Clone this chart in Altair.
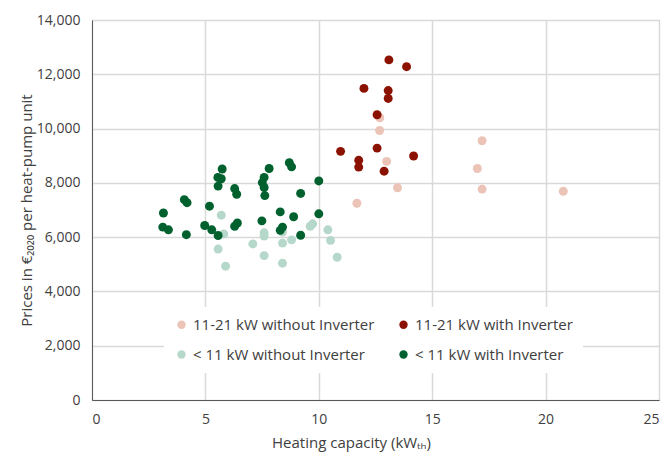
import altair as alt
import pandas as pd

# 11-21 kW without inverter
x_big_wo = [12.69, 12.68, 12.99, 13.47, 11.68, 17.20, 16.99, 17.20, 20.78]
y_big_wo = [10400, 9930, 8790, 7820, 7250, 9550, 8530, 7770, 7690]

# 11-21 kW with inverter
x_big_w = [13.09, 13.87, 11.99, 13.06, 13.06, 12.57, 10.96, 12.57, 11.76, 11.76, 12.88, 14.18]
y_big_w = [12530, 12280, 11480, 11400, 11110, 10510, 9160, 9280, 8830, 8580, 8430, 8990]

# < 11 kW without inverter
x_small_wo = [5.70, 5.81, 5.56, 5.89, 7.09, 7.59, 7.59, 7.59, 8.40, 8.40, 8.40, 8.80,
              9.62, 9.73, 10.40, 10.52, 10.81]
y_small_wo = [6810, 6120, 5560, 4930, 5750, 6160, 6040, 5320, 6190, 5780, 5040, 5900,
              6400, 6490, 6270, 5880, 5260]

# < 11 kW with inverter
x_small_w = [3.15, 3.12, 3.37, 4.07, 4.19, 4.16, 5.18, 4.97, 5.28, 5.56, 5.74, 5.55,
             5.70, 5.56, 6.29, 6.38, 6.29, 6.41, 7.81, 7.59, 7.51, 7.59, 7.62, 7.49,
             8.70, 8.80, 9.20, 10.00, 8.30, 8.89, 8.40, 8.30, 9.20, 10.00]
y_small_w = [6890, 6370, 6270, 7380, 7270, 6090, 7140, 6430, 6270, 6060, 8510, 8200,
             8150, 7880, 7790, 7580, 6400, 6520, 8530, 8200, 8010, 7830, 7530, 6600,
             8740, 8590, 7610, 8070, 6930, 6750, 6370, 6250, 6070, 6860]

categories = ["11-21 kW without Inverter", "11-21 kW with Inverter",
              "< 11 kW without Inverter", "< 11 kW with Inverter"]
colors = ["#ebc3b7", "#8b1200", "#b5d8ca", "#00612e"]

series = [(x_big_wo, y_big_wo), (x_big_w, y_big_w),
          (x_small_wo, y_small_wo), (x_small_w, y_small_w)]
rows = []
for cat, (xs, ys) in zip(categories, series):
    for xv, yv in zip(xs, ys):
        rows.append({"cap": xv, "price": yv, "group": cat})
df = pd.DataFrame(rows)

FONT = "Open Sans"
TXT = "#404040"

chart = alt.Chart(df).mark_circle(size=80, opacity=1).encode(
    x=alt.X("cap:Q", scale=alt.Scale(domain=[0, 25], nice=False),
            axis=alt.Axis(values=[0, 5, 10, 15, 20, 25], title="Heating capacity (kWₜₕ)",
                          titleX=259, titleY=35, titleAnchor="middle")),
    y=alt.Y("price:Q", scale=alt.Scale(domain=[0, 14000], nice=False),
            axis=alt.Axis(values=list(range(0, 14001, 2000)), format=",.0f",
                          title="Prices in €₂₀₂₀ per heat-pump unit")),
    color=alt.Color("group:N", scale=alt.Scale(domain=categories, range=colors),
                    sort=categories,
                    legend=alt.Legend(title=None, orient="none", columns=2,
                                      legendX=72, legendY=287, direction="horizontal",
                                      fillColor="white", padding=10,
                                      columnPadding=21, rowPadding=14,
                                      symbolType="circle", symbolSize=70,
                                      labelFont=FONT, labelFontSize=15, labelColor=TXT,
                                      labelLimit=400, symbolOpacity=1)),
).properties(
    width=567, height=380,
    autosize=alt.AutoSizeParams(type="none"),
    padding={"left": 84, "top": 12, "right": 2, "bottom": 52},
).configure_view(
    stroke="#a6a6a6", strokeWidth=1
).configure_axis(
    labelFont=FONT, labelFontSize=14, labelColor=TXT,
    titleFont=FONT, titleFontSize=15, titleColor=TXT, titleFontWeight="normal",
    gridColor="#d9d9d9", gridWidth=1.5,
    domainColor="#595959", domainWidth=1,
    ticks=False, tickSize=0, labelPadding=12,
).configure_axisY(
    titlePadding=2
)

chart.save("out.html", embed_options={"renderer": "svg", "actions": False})
